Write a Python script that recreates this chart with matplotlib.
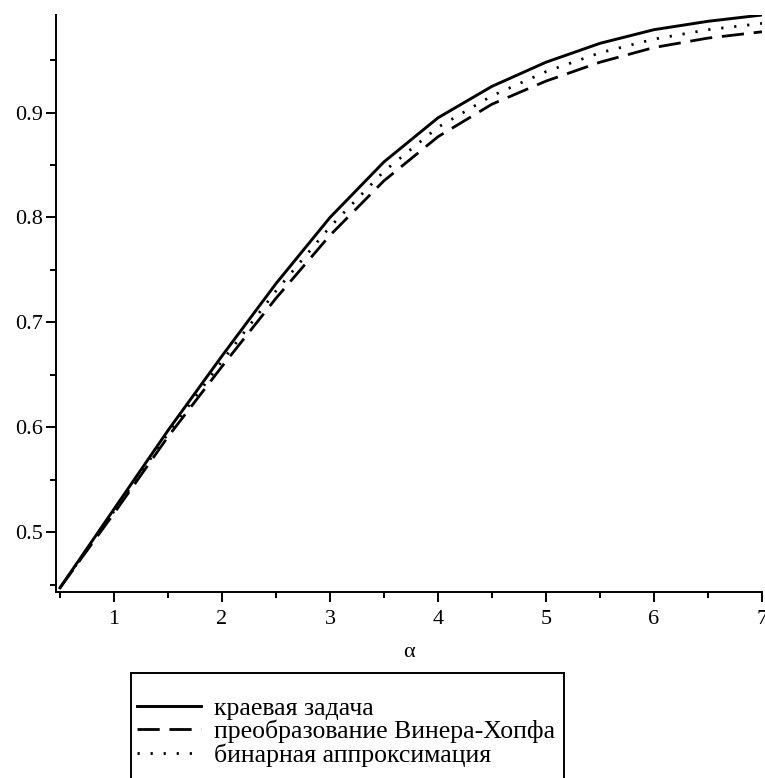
import numpy as np
import matplotlib.pyplot as plt
from matplotlib.patches import Rectangle
from matplotlib.ticker import MultipleLocator

plt.rcParams['font.family'] = ['Liberation Serif', 'DejaVu Serif']
plt.rcParams['lines.scale_dashes'] = False

# alpha values and the three solutions
alpha = [0.5, 1.0, 1.5, 2.0, 2.5, 3.0, 3.5, 4.0, 4.5, 5.0, 5.5, 6.0, 6.5, 7.0]
boundary = [0.447, 0.522, 0.597, 0.668, 0.737, 0.800, 0.853, 0.895, 0.925, 0.948, 0.966, 0.979, 0.987, 0.993]
wiener_hopf = [0.447, 0.518, 0.591, 0.658, 0.723, 0.783, 0.835, 0.877, 0.908, 0.930, 0.948, 0.962, 0.971, 0.977]
binary = [0.447, 0.520, 0.594, 0.663, 0.730, 0.791, 0.844, 0.886, 0.916, 0.939, 0.957, 0.970, 0.979, 0.985]

labels = ['краевая задача', 'преобразование Винера-Хопфа', 'бинарная аппроксимация']

W, H = 765, 778
fig = plt.figure(figsize=(W / 100, H / 100), dpi=100)
ax = fig.add_axes([56 / W, 186 / H, 706 / W, 577 / H])

ax.plot(alpha, boundary, color='black', lw=2.1, label=labels[0])
ax.plot(alpha, wiener_hopf, color='black', lw=2.0, linestyle=(0, (16, 7)), label=labels[1])
ax.plot(alpha, binary, color='black', lw=2.0, linestyle=(0, (1.6, 7.8)), label=labels[2])

ax.set_xlim(0.463, 7.0)
ax.set_ylim(0.443, 0.993)

for side in ['top', 'right']:
    ax.spines[side].set_visible(False)
for side in ['left', 'bottom']:
    ax.spines[side].set_linewidth(1.4)

ax.xaxis.set_major_locator(MultipleLocator(1))
ax.xaxis.set_minor_locator(MultipleLocator(0.5))
ax.yaxis.set_major_locator(MultipleLocator(0.1))
ax.yaxis.set_minor_locator(MultipleLocator(0.05))
ax.tick_params(which='major', length=7, width=1.4, labelsize=16, pad=6)
ax.tick_params(which='minor', length=4, width=1.4)
ax.tick_params(axis='y', pad=2)
ax.set_xticks([1, 2, 3, 4, 5, 6, 7])
ax.set_yticks([0.5, 0.6, 0.7, 0.8, 0.9])
ax.set_yticklabels(['0.5', '0.6', '0.7', '0.8', '0.9'])

ax.set_xlabel('α', fontsize=16, labelpad=10)

# legend entries without their own frame; the box is drawn separately
leg = fig.legend(loc='upper left', bbox_to_anchor=(137 / W, 1 - 697 / H),
                 frameon=False, fontsize=18.5, handlelength=2.5,
                 handletextpad=0.5, borderpad=0, labelspacing=0,
                 borderaxespad=0)
fig.add_artist(Rectangle((131 / W, -0.05), (564 - 131) / W, 0.05 + 1 - 673 / H,
                         transform=fig.transFigure, fill=False,
                         edgecolor='black', linewidth=1.4))

fig.savefig('out.png', dpi=100)
